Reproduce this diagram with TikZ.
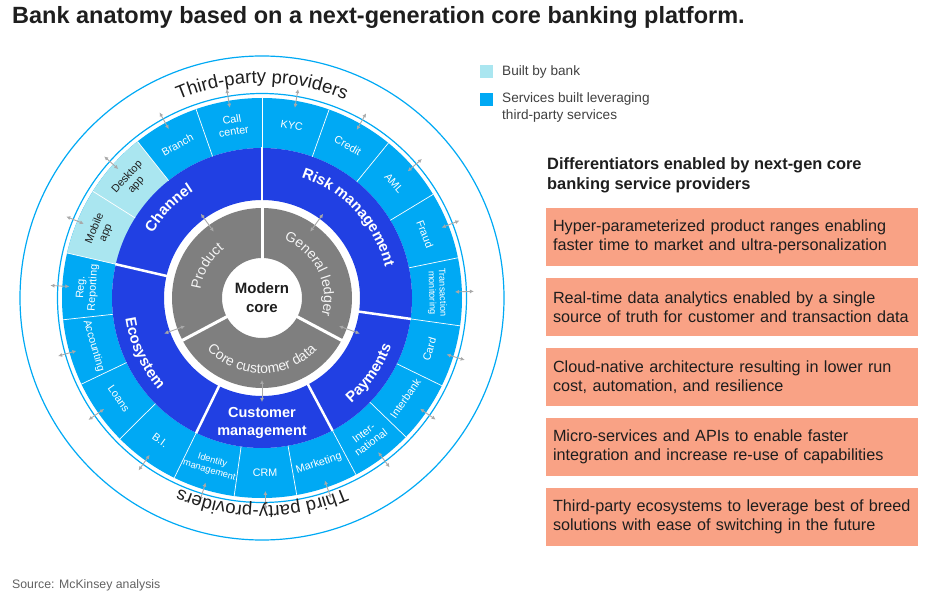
\documentclass[tikz,border=0pt]{standalone}
\usepackage{fontspec}
\setmainfont{Liberation Sans}
\usetikzlibrary{arrows.meta,positioning,decorations.text}

\definecolor{deepblue}{HTML}{2140E3}
\definecolor{cyanblue}{HTML}{00A9F4}
\definecolor{paleblue}{HTML}{AAE6F0}
\definecolor{coregrey}{HTML}{7F7F7F}
\definecolor{salmon}{HTML}{F9A285}
\definecolor{linkgrey}{HTML}{A9A9A9}
\definecolor{inktext}{HTML}{1E1E1E}

\begin{document}
\begin{tikzpicture}[
  x=1pt, y=1pt,
  heading/.style={anchor=west, inner sep=0pt, text=inktext,
    font=\bfseries\fontsize{23.5}{28}\selectfont},
  subheading/.style={anchor=west, inner sep=0pt, align=left, text=inktext,
    font=\bfseries\fontsize{16.4}{20}\selectfont},
  diffbox/.style={fill=salmon, minimum width=372pt, minimum height=58pt,
    text width=358pt, inner xsep=7pt, inner ysep=0pt, align=left,
    text=inktext, font=\fontsize{16.2}{19.5}\selectfont},
  legendkey/.style={minimum size=13pt, inner sep=0pt},
  legendtext/.style={anchor=west, inner sep=0pt, align=left, text=inktext!85,
    font=\fontsize{13.6}{16.5}\selectfont},
  seglabel/.style={align=center, inner sep=0pt, text=white,
    font=\fontsize{10.8}{12}\selectfont},
  smalllabel/.style={seglabel, font=\fontsize{9.3}{10.5}\selectfont},
  palelabel/.style={seglabel, text=inktext},
  corelabel/.style={align=center, inner sep=0pt, text=inktext,
    font=\bfseries\fontsize{15}{19}\selectfont},
  ringtext/.style={decorate, decoration={text along path, text align=center}},
  link/.style={{Latex[length=4pt,width=4pt]}-{Latex[length=4pt,width=4pt]},
    line width=0.9pt, linkgrey}
]
\useasboundingbox (0,0) rectangle (946,598);

\node[heading] (title) at (12,581)
  {Bank anatomy based on a next-generation core banking platform.};

% Legend
\node[legendkey, fill=paleblue] (keybank) at (486,526.5) {};
\node[legendtext] (txtbank) at (502,526.5) {Built by bank};
\node[legendkey, fill=cyanblue] (keythird) at (486,498) {};
\node[legendtext] (txtthird) at (502,490.5) {Services built leveraging\\third-party services};

% Wheel
\begin{scope}[shift={(262,300)}]
  % rings
  \fill[cyanblue, even odd rule] (0,0) circle[radius=200] circle[radius=150];
  \fill[paleblue] (128.5:150) arc[start angle=128.5, end angle=167, radius=150]
    -- (167:200) arc[start angle=167, end angle=128.5, radius=200] -- cycle;
  \fill[deepblue, even odd rule] (0,0) circle[radius=150] circle[radius=98];
  \fill[coregrey, even odd rule] (0,0) circle[radius=90] circle[radius=40];
  \draw[cyanblue, line width=1.2pt] (0,0) circle[radius=204.5];
  \draw[cyanblue, line width=1.2pt] (0,0) circle[radius=242];

  % separators
  \foreach \a in {109.25,128.5,147.75,186.25,205.5,224.75,262,280,316,334,
                  11.6,31.2,50.8,70.4,90,167,244,298,352}
    \draw[white, line width=0.7pt] (\a:150) -- (\a:200);
  \foreach \a in {90,167,244,298,352}
    \draw[white, line width=2.5pt] (\a:97) -- (\a:150.5);
  \foreach \a in {90,208,332}
    \draw[white, line width=3pt] (\a:39) -- (\a:91);

  % service segments
  \foreach \nm/\ang/\rot/\sty/\txt in {
      call/99.6/9.6/seglabel/{Call\\center},
      branch/118.9/28.9/seglabel/Branch,
      desktop/138.1/48.1/palelabel/{Desktop\\app},
      mobile/157.4/67.4/palelabel/{Mobile\\app},
      regrep/176.6/86.6/seglabel/{Reg.\\Reporting},
      accounting/195.9/285.9/seglabel/Accounting,
      loans/215.1/305.1/seglabel/Loans,
      bi/234.4/324.4/seglabel/B.I.,
      identity/253/343/smalllabel/{Identity\\management},
      crm/271/1/seglabel/CRM,
      marketing/289/19/seglabel/Marketing,
      international/307/37/seglabel/{Inter-\\national},
      interbank/325/55/seglabel/Interbank,
      card/343/73/seglabel/Card,
      transaction/1.8/-88.2/smalllabel/{Transaction\\monitoring},
      fraud/21.4/-68.6/seglabel/Fraud,
      aml/41/-49/seglabel/AML,
      credit/60.6/-29.4/seglabel/Credit,
      kyc/80.2/-9.8/seglabel/KYC}
  {
    \node[\sty, rotate=\rot] (\nm) at (\ang:175) {\txt};
    \coordinate (\nm-in) at (\ang:193);
    \coordinate (\nm-out) at (\ang:212);
    \draw[link] (\nm-in) -- (\nm-out);
  }

  % core links
  \foreach \nm/\ang in {product/126, ledger/54, ecosys/200, payment/-20, customer/270}
  {
    \coordinate (\nm-in) at (\ang:82);
    \coordinate (\nm-out) at (\ang:104);
    \draw[link] (\nm-in) -- (\nm-out);
  }

  % domain labels
  \path[ringtext, decoration={text color=white,
      text={|\bfseries\fontsize{15}{15}\selectfont|Risk management}}]
    (93:127) arc[start angle=93, end angle=-7, radius=127];
  \path[ringtext, decoration={text color=white,
      text={|\bfseries\fontsize{15}{15}\selectfont|Channel}}]
    (186:127) arc[start angle=186, end angle=86, radius=127];
  \path[ringtext, decoration={text color=white,
      text={|\bfseries\fontsize{15}{15}\selectfont|Ecosystem}}]
    (155:138) arc[start angle=155, end angle=255, radius=138];
  \path[ringtext, decoration={text color=white,
      text={|\bfseries\fontsize{15}{15}\selectfont|Payments}}]
    (-85:138) arc[start angle=-85, end angle=15, radius=138];
  \node[corelabel, text=white, font=\bfseries\fontsize{14.5}{18}\selectfont]
    (custmgmt) at (270:125) {Customer\\management};

  % core labels
  \path[ringtext, decoration={text color=white!92!coregrey,
      text={|\fontsize{14}{14}\selectfont|Product}}]
    (195:62) arc[start angle=195, end angle=105, radius=62];
  \path[ringtext, decoration={text color=white!92!coregrey,
      text={|\fontsize{14}{14}\selectfont|General ledger}}]
    (100:62) arc[start angle=100, end angle=-47, radius=62];
  \path[ringtext, decoration={text color=white!92!coregrey,
      text={|\fontsize{14}{14}\selectfont|Core customer data}}]
    (200:75.5) arc[start angle=200, end angle=340, radius=75.5];
  \node[corelabel] (core) at (0,0) {Modern\\core};

  % third-party providers
  \path[ringtext, decoration={text color=inktext,
      text={|\fontsize{18.5}{18.5}\selectfont|Third-party providers}}]
    (160:215) arc[start angle=160, end angle=20, radius=215];
  \path[ringtext, decoration={text color=inktext,
      text={|\fontsize{18.5}{18.5}\selectfont|Third party-providers}}]
    (-20:208) arc[start angle=-20, end angle=-160, radius=208];
\end{scope}

% Differentiators
\node[subheading] (diffhead) at (547,423)
  {Differentiators enabled by next-gen core\\banking service providers};
\node[diffbox] (diff1) at (732,361)
  {Hyper-parameterized product ranges enabling\\faster time to market and ultra-personalization};
\node[diffbox] (diff2) at (732,291)
  {Real-time data analytics enabled by a single\\source of truth for customer and transaction data};
\node[diffbox] (diff3) at (732,221)
  {Cloud-native architecture resulting in lower run\\cost, automation, and resilience};
\node[diffbox] (diff4) at (732,151)
  {Micro-services and APIs to enable faster\\integration and increase re-use of capabilities};
\node[diffbox] (diff5) at (732,81)
  {Third-party ecosystems to leverage best of breed\\solutions with ease of switching in the future};

\node[anchor=west, inner sep=0pt, text=inktext!70, font=\fontsize{12.3}{14}\selectfont]
  (source) at (12,13) {Source: McKinsey analysis};
\end{tikzpicture}
\end{document}
